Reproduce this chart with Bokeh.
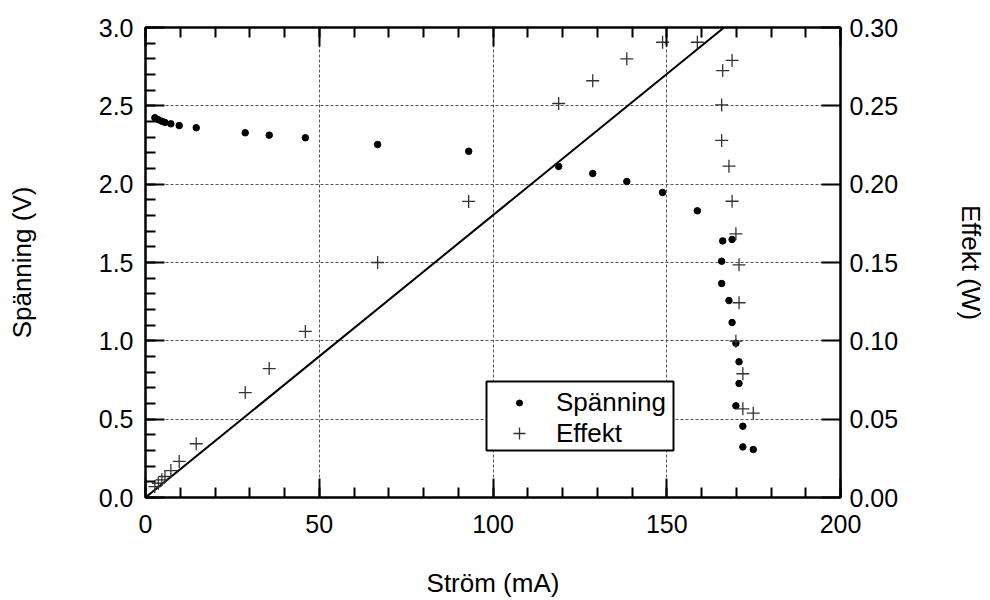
from bokeh.plotting import figure
from bokeh.models import (LinearAxis, Range1d, SingleIntervalTicker, NumeralTickFormatter,
                          Legend, LegendItem, BoxAnnotation)
from bokeh.embed import file_html
from bokeh.resources import INLINE

# --- data ---
strom_v = [2.7, 3.7, 4.7, 5.6, 7.3, 9.7, 14.6, 28.7, 35.6, 46.0, 66.8, 93.0, 118.9, 128.7,
           138.5, 148.8, 158.8, 166.1, 168.8, 165.8, 165.8, 167.9, 168.8, 169.9, 170.8,
           170.8, 169.9, 171.9, 171.9, 174.9]
spanning = [2.424, 2.411, 2.402, 2.394, 2.385, 2.374, 2.360, 2.328, 2.313, 2.296, 2.253,
            2.210, 2.113, 2.068, 2.017, 1.947, 1.830, 1.638, 1.647, 1.508, 1.366, 1.257,
            1.117, 0.985, 0.866, 0.728, 0.585, 0.455, 0.323, 0.306]

strom_p = [2.7, 3.7, 4.7, 5.6, 7.3, 9.7, 14.6, 28.7, 35.6, 46.0, 66.8, 93.0, 118.9, 128.7,
           138.5, 148.8, 158.8, 166.1, 168.8, 165.8, 165.8, 167.9, 168.8, 169.9, 170.8,
           170.8, 169.9, 171.9, 171.9, 174.9]
effekt = [0.0070, 0.0091, 0.0113, 0.0134, 0.0172, 0.0230, 0.0343, 0.0670, 0.0823, 0.1060,
          0.1500, 0.1890, 0.2515, 0.2660, 0.2800, 0.2906, 0.2906, 0.2725, 0.2790, 0.2506,
          0.2279, 0.2115, 0.1891, 0.1683, 0.1485, 0.1243, 0.0998, 0.0790, 0.0566, 0.0538]

line_i = [0.0, 166.5]
line_v = [0.0, 3.0]

FONT = "Liberation Sans"
FS_TICK = "25px"
FS_TITLE = "26px"

p = figure(width=990, height=600, x_range=Range1d(0, 200), y_range=Range1d(0, 3.0000001),
           output_backend="svg", toolbar_location=None,
           min_border_left=145, min_border_right=150, min_border_top=27, min_border_bottom=103)
p.extra_y_ranges = {"P": Range1d(0, 0.3000001)}

p.outline_line_color = "black"
p.outline_line_width = 2

def style_axis(ax):
    ax.axis_line_color = "black"
    ax.axis_line_width = 2
    ax.major_tick_in = 19
    ax.major_tick_out = 0
    ax.minor_tick_in = 10
    ax.minor_tick_out = 0
    ax.major_tick_line_width = 2
    ax.minor_tick_line_width = 2
    ax.major_tick_line_color = "black"
    ax.minor_tick_line_color = "black"
    ax.major_label_text_font = FONT
    ax.major_label_text_font_size = FS_TICK
    ax.major_label_text_color = "black"
    ax.axis_label_text_font = FONT
    ax.axis_label_text_font_size = FS_TITLE
    ax.axis_label_text_font_style = "normal"
    ax.axis_label_text_color = "black"

xt = SingleIntervalTicker(interval=50, num_minor_ticks=5)
yt = SingleIntervalTicker(interval=0.5, num_minor_ticks=5)

xa = p.xaxis[0]
xa.ticker = xt
style_axis(xa)
xa.axis_label = "Ström (mA)"
xa.major_label_standoff = 17
xa.axis_label_standoff = 32

ya = p.yaxis[0]
ya.ticker = yt
ya.formatter = NumeralTickFormatter(format="0.0")
style_axis(ya)
ya.axis_label = "Spänning (V)"
ya.major_label_standoff = 12
ya.axis_label_standoff = 59

top = LinearAxis(ticker=SingleIntervalTicker(interval=50, num_minor_ticks=5))
style_axis(top)
top.major_label_text_font_size = "10px"
top.major_label_text_color = None
top.major_label_standoff = 0
p.add_layout(top, "above")

right = LinearAxis(y_range_name="P", ticker=SingleIntervalTicker(interval=0.05, num_minor_ticks=0),
                   formatter=NumeralTickFormatter(format="0.00"))
style_axis(right)
right.minor_tick_line_color = None
right.axis_label = "Effekt (W)"
right.major_label_standoff = 9
right.axis_label_standoff = 55
p.add_layout(right, "right")

for g, t in ((p.xgrid[0], xt), (p.ygrid[0], yt)):
    g.ticker = t
    g.grid_line_color = "#555555"
    g.grid_line_dash = "3 2"
    g.grid_line_width = 1

p.line(line_i, line_v, line_color="black", line_width=2)

r_v = p.scatter(strom_v, spanning, marker="circle", size=6.5, fill_color="black",
                line_color="black")
r_p = p.scatter(strom_p, effekt, marker="cross", size=13, line_color="#333333",
                line_width=1.3, y_range_name="P")

# legend frame (screen units, relative to the plot frame), then one legend per row
box = BoxAnnotation(left=341, right=528, bottom=47, top=116,
                    left_units="screen", right_units="screen",
                    bottom_units="screen", top_units="screen",
                    fill_color="white", fill_alpha=1, line_color="black", line_width=2,
                    line_alpha=1)
p.add_layout(box)

common = dict(orientation="vertical", label_text_font=FONT, label_text_font_size=FS_TITLE,
              label_text_color="black", glyph_width=66, label_standoff=4, padding=0,
              margin=0, border_line_color=None, background_fill_alpha=0, label_height=32)

leg1 = Legend(items=[LegendItem(label="Spänning", renderers=[r_v])],
              location=(341, 79), glyph_height=15, **common)
leg2 = Legend(items=[LegendItem(label="Effekt", renderers=[r_p])],
              location=(341, 48), glyph_height=30, **common)
p.add_layout(leg1, "center")
p.add_layout(leg2, "center")

open("out.html", "w").write(file_html(p, INLINE))
